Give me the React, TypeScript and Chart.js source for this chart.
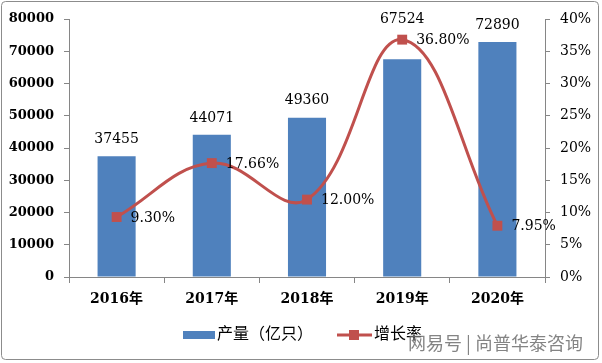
import React, { useEffect, useRef } from "react";
import { Chart, registerables } from "chart.js";

Chart.register(...registerables);

const years = ["2016年", "2017年", "2018年", "2019年", "2020年"];
const production = [37455, 44071, 49360, 67524, 72890];
const growth = [9.3, 17.66, 12.0, 36.8, 7.95];
const growthLabels = ["9.30%", "17.66%", "12.00%", "36.80%", "7.95%"];
const seriesNames = ["产量（亿只）", "增长率"];
const watermark = "网易号 | 尚普华泰咨询";

const BLUE = "#4F81BD";
const RED = "#C0504D";
const AXIS = "#868686";
const NUM_FONT = "'DejaVu Serif', 'Noto Sans CJK SC', serif";
const CJK_FONT = "'Noto Sans CJK SC', sans-serif";

const extrasPlugin = {
  id: "extras",
  beforeDraw(chart: any) {
    const ctx = chart.ctx;
    ctx.save();
    ctx.fillStyle = "#ffffff";
    ctx.fillRect(0, 0, chart.width, chart.height);
    ctx.strokeStyle = "#8c8c8c";
    ctx.lineWidth = 1;
    ctx.beginPath();
    (ctx as any).roundRect(1.5, 1.5, 597, 358, 4);
    ctx.stroke();
    ctx.restore();
  },
  afterDraw(chart: any) {
    const ctx = chart.ctx;
    const barMeta = chart.getDatasetMeta(0);
    const lineMeta = chart.getDatasetMeta(1);
    ctx.save();
    ctx.fillStyle = "#000";
    ctx.font = "14px " + NUM_FONT;
    ctx.textAlign = "center";
    ctx.textBaseline = "middle";
    barMeta.data.forEach((bar: any, i: number) => {
      const pt = lineMeta.data[i];
      let top = bar.y;
      if (pt.y < bar.y + 5 && Math.abs(pt.y - bar.y) < 30) top = Math.min(bar.y, pt.y - 3);
      ctx.fillText(String(production[i]), bar.x, top - 17);
    });
    ctx.textAlign = "left";
    lineMeta.data.forEach((pt: any, i: number) => {
      ctx.fillText(growthLabels[i], pt.x + 14, pt.y + 1);
    });

    // legend
    const ly = 335;
    ctx.fillStyle = BLUE;
    ctx.fillRect(183, ly - 4, 32, 8);
    ctx.fillStyle = "#000";
    ctx.font = "16px " + CJK_FONT;
    ctx.textAlign = "left";
    ctx.fillText(seriesNames[0], 217, ly - 2);
    ctx.strokeStyle = RED;
    ctx.lineWidth = 3;
    ctx.beginPath();
    ctx.moveTo(337, ly);
    ctx.lineTo(372, ly);
    ctx.stroke();
    ctx.fillStyle = RED;
    ctx.fillRect(349, ly - 5, 10, 10);
    ctx.fillStyle = "#000";
    ctx.fillText(seriesNames[1], 374, ly - 2);

    // watermark
    ctx.fillStyle = "rgba(110,110,110,0.85)";
    ctx.font = "18px " + CJK_FONT;
    ctx.textAlign = "right";
    ctx.fillText(watermark, 583, 343);
    ctx.restore();
  },
};

export default function App() {
  const ref = useRef<HTMLCanvasElement>(null);
  useEffect(() => {
    if (!ref.current) return;
    const chart = new Chart(ref.current, {
      type: "bar",
      data: {
        labels: years,
        datasets: [
          {
            type: "bar",
            label: seriesNames[0],
            data: production,
            backgroundColor: BLUE,
            yAxisID: "y",
            categoryPercentage: 1,
            barPercentage: 0.4,
            order: 2,
          },
          {
            type: "line",
            label: seriesNames[1],
            data: growth,
            borderColor: RED,
            backgroundColor: RED,
            borderWidth: 3,
            pointStyle: "rect",
            pointRadius: 7,
            pointBorderWidth: 0,
            tension: 0.4,
            yAxisID: "y1",
            order: 1,
          },
        ],
      },
      plugins: [extrasPlugin],
      options: {
        responsive: false,
        animation: false,
        devicePixelRatio: 1,
        layout: { padding: { top: 19, left: 0, right: 0, bottom: 0 } },
        plugins: { legend: { display: false }, tooltip: { enabled: false } },
        scales: {
          x: {
            offset: true,
            grid: { offset: true, drawOnChartArea: false, tickLength: 6, color: AXIS },
            border: { color: AXIS },
            ticks: {
              color: "#000",
              font: { family: NUM_FONT, size: 14, weight: "bold" },
              padding: 8,
              maxRotation: 0,
            },
            afterFit(scale: any) {
              scale.height = 86;
            },
          },
          y: {
            position: "left",
            min: 0,
            max: 80000,
            ticks: {
              stepSize: 10000,
              color: "#000",
              font: { family: NUM_FONT, size: 13, weight: "bold" },
              padding: 10,
              callback: (v: any) => String(v),
            },
            grid: { drawOnChartArea: false, tickLength: 5, color: AXIS },
            border: { color: AXIS },
            afterFit(scale: any) {
              scale.width = 69;
            },
          },
          y1: {
            position: "right",
            min: 0,
            max: 40,
            ticks: {
              stepSize: 5,
              color: "#000",
              font: { family: NUM_FONT, size: 14 },
              padding: 10,
              callback: (v: any) => v + "%",
            },
            grid: { drawOnChartArea: false, tickLength: 5, color: AXIS },
            border: { color: AXIS },
            afterFit(scale: any) {
              scale.width = 57;
            },
          },
        },
      },
    });
    return () => chart.destroy();
  }, []);
  return (
    <div style={{ position: "absolute", left: 0, top: 0, width: 602, height: 363 }}>
      <canvas ref={ref} width={602} height={363} />
    </div>
  );
}
